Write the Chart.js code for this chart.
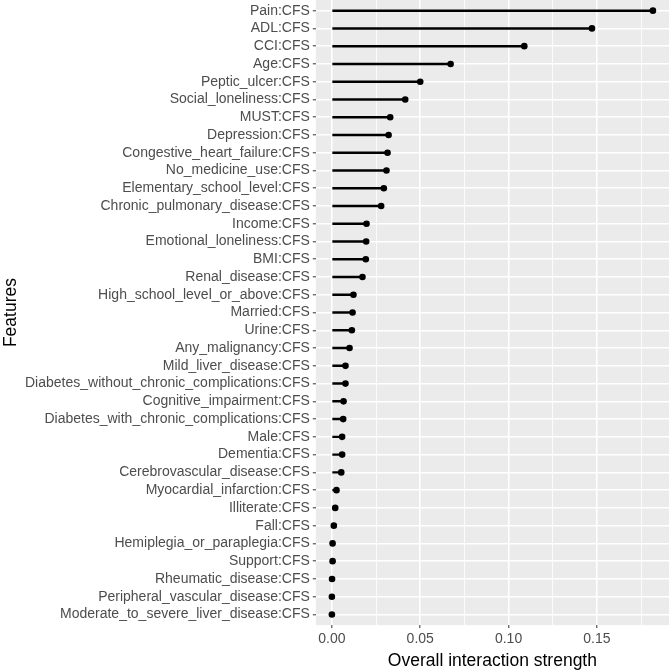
<!DOCTYPE html>
<html>
<head>
<meta charset="utf-8">
<script src="https://cdn.jsdelivr.net/npm/chart.js@4"></script>
<style>
  body { margin: 0; background: #fff; }
</style>
</head>
<body>
<canvas id="lolli" width="669" height="670"></canvas>
<script>
const features = [
    'Pain:CFS', 'ADL:CFS', 'CCI:CFS', 'Age:CFS', 'Peptic_ulcer:CFS',
    'Social_loneliness:CFS', 'MUST:CFS', 'Depression:CFS', 'Congestive_heart_failure:CFS',
    'No_medicine_use:CFS', 'Elementary_school_level:CFS', 'Chronic_pulmonary_disease:CFS',
    'Income:CFS', 'Emotional_loneliness:CFS', 'BMI:CFS', 'Renal_disease:CFS',
    'High_school_level_or_above:CFS', 'Married:CFS', 'Urine:CFS', 'Any_malignancy:CFS',
    'Mild_liver_disease:CFS', 'Diabetes_without_chronic_complications:CFS',
    'Cognitive_impairment:CFS', 'Diabetes_with_chronic_complications:CFS', 'Male:CFS',
    'Dementia:CFS', 'Cerebrovascular_disease:CFS', 'Myocardial_infarction:CFS',
    'Illiterate:CFS', 'Fall:CFS', 'Hemiplegia_or_paraplegia:CFS', 'Support:CFS',
    'Rheumatic_disease:CFS', 'Peripheral_vascular_disease:CFS',
    'Moderate_to_severe_liver_disease:CFS'
];
const strength = [
    0.1817, 0.1472, 0.1089, 0.0672, 0.0500,
    0.0415, 0.0330, 0.0321, 0.0315,
    0.0309, 0.0294, 0.0279,
    0.0196, 0.0194, 0.0192, 0.0173,
    0.0122, 0.0117, 0.0113, 0.0100,
    0.0077, 0.0077,
    0.0066, 0.0064, 0.0058,
    0.0058, 0.0053, 0.0026,
    0.0019, 0.0011, 0.0004, 0.0004,
    0.0001, 0.0000,
    0.0000
];
const xTicks = [0, 0.025, 0.05, 0.075, 0.1, 0.125, 0.15, 0.175];

const points = strength.map((v, i) => ({ x: v, y: i }));

// grey ggplot-style panel behind the grid
const panelBg = {
    id: 'panelBg',
    beforeDraw(chart) {
        const { ctx, chartArea: a } = chart;
        ctx.save();
        ctx.fillStyle = '#EBEBEB';
        ctx.fillRect(a.left, a.top, a.right - a.left, a.bottom - a.top);
        ctx.restore();
    }
};

const isMajor = v => Math.abs(Math.round(v * 20) - v * 20) < 1e-6;

new Chart(document.getElementById('lolli'), {
    type: 'bar',
    data: {
        datasets: [{
            type: 'bar',
            data: points,
            backgroundColor: '#000',
            barThickness: 1.8,
            order: 2
        }, {
            type: 'scatter',
            data: points,
            pointRadius: 3.3,
            pointBackgroundColor: '#000',
            pointBorderWidth: 0,
            showLine: false,
            order: 1
        }]
    },
    plugins: [panelBg],
    options: {
        indexAxis: 'y',
        responsive: false,
        animation: false,
        layout: { padding: 0, autoPadding: false },
        plugins: { legend: { display: false }, tooltip: { enabled: false } },
        scales: {
            x: {
                type: 'linear',
                bounds: 'data',
                offset: false,
                min: -0.0091,
                max: 0.1908,
                afterBuildTicks: axis => { axis.ticks = xTicks.map(v => ({ value: v })); },
                afterFit: axis => { axis.paddingLeft = 0; axis.paddingRight = 0; },
                ticks: {
                    autoSkip: false,
                    maxRotation: 0,
                    padding: 3,
                    color: '#4D4D4D',
                    font: { family: 'Liberation Sans', size: 14, lineHeight: 1.1 },
                    callback: v => isMajor(v) ? v.toFixed(2) : ''
                },
                grid: {
                    offset: false,
                    color: '#FFFFFF',
                    lineWidth: c => isMajor(c.tick.value) ? 1.6 : 0.8,
                    tickColor: c => isMajor(c.tick.value) ? '#333333' : 'rgba(0,0,0,0)',
                    tickLength: 3,
                    tickWidth: 1
                },
                border: { display: false },
                title: {
                    display: true,
                    text: 'Overall interaction strength',
                    color: '#000',
                    padding: { top: 3, bottom: 0 },
                    font: { family: 'Liberation Sans', size: 17.5, lineHeight: 1 }
                }
            },
            y: {
                type: 'linear',
                bounds: 'data',
                offset: false,
                reverse: true,
                min: -0.6,
                max: features.length - 0.4,
                afterBuildTicks: axis => { axis.ticks = features.map((_, i) => ({ value: i })); },
                afterFit: axis => { axis.paddingTop = 0; axis.paddingBottom = 0; },
                ticks: {
                    autoSkip: false,
                    padding: 3,
                    color: '#4D4D4D',
                    font: { family: 'Liberation Sans', size: 14 },
                    callback: v => features[v]
                },
                grid: {
                    offset: false,
                    color: '#FFFFFF',
                    lineWidth: 1.6,
                    tickColor: '#333333',
                    tickLength: 3,
                    tickWidth: 1
                },
                border: { display: false },
                title: {
                    display: true,
                    text: 'Features',
                    color: '#000',
                    padding: { top: 1, bottom: 0 },
                    font: { family: 'Liberation Sans', size: 17.5 }
                }
            }
        }
    }
});
</script>
</body>
</html>
